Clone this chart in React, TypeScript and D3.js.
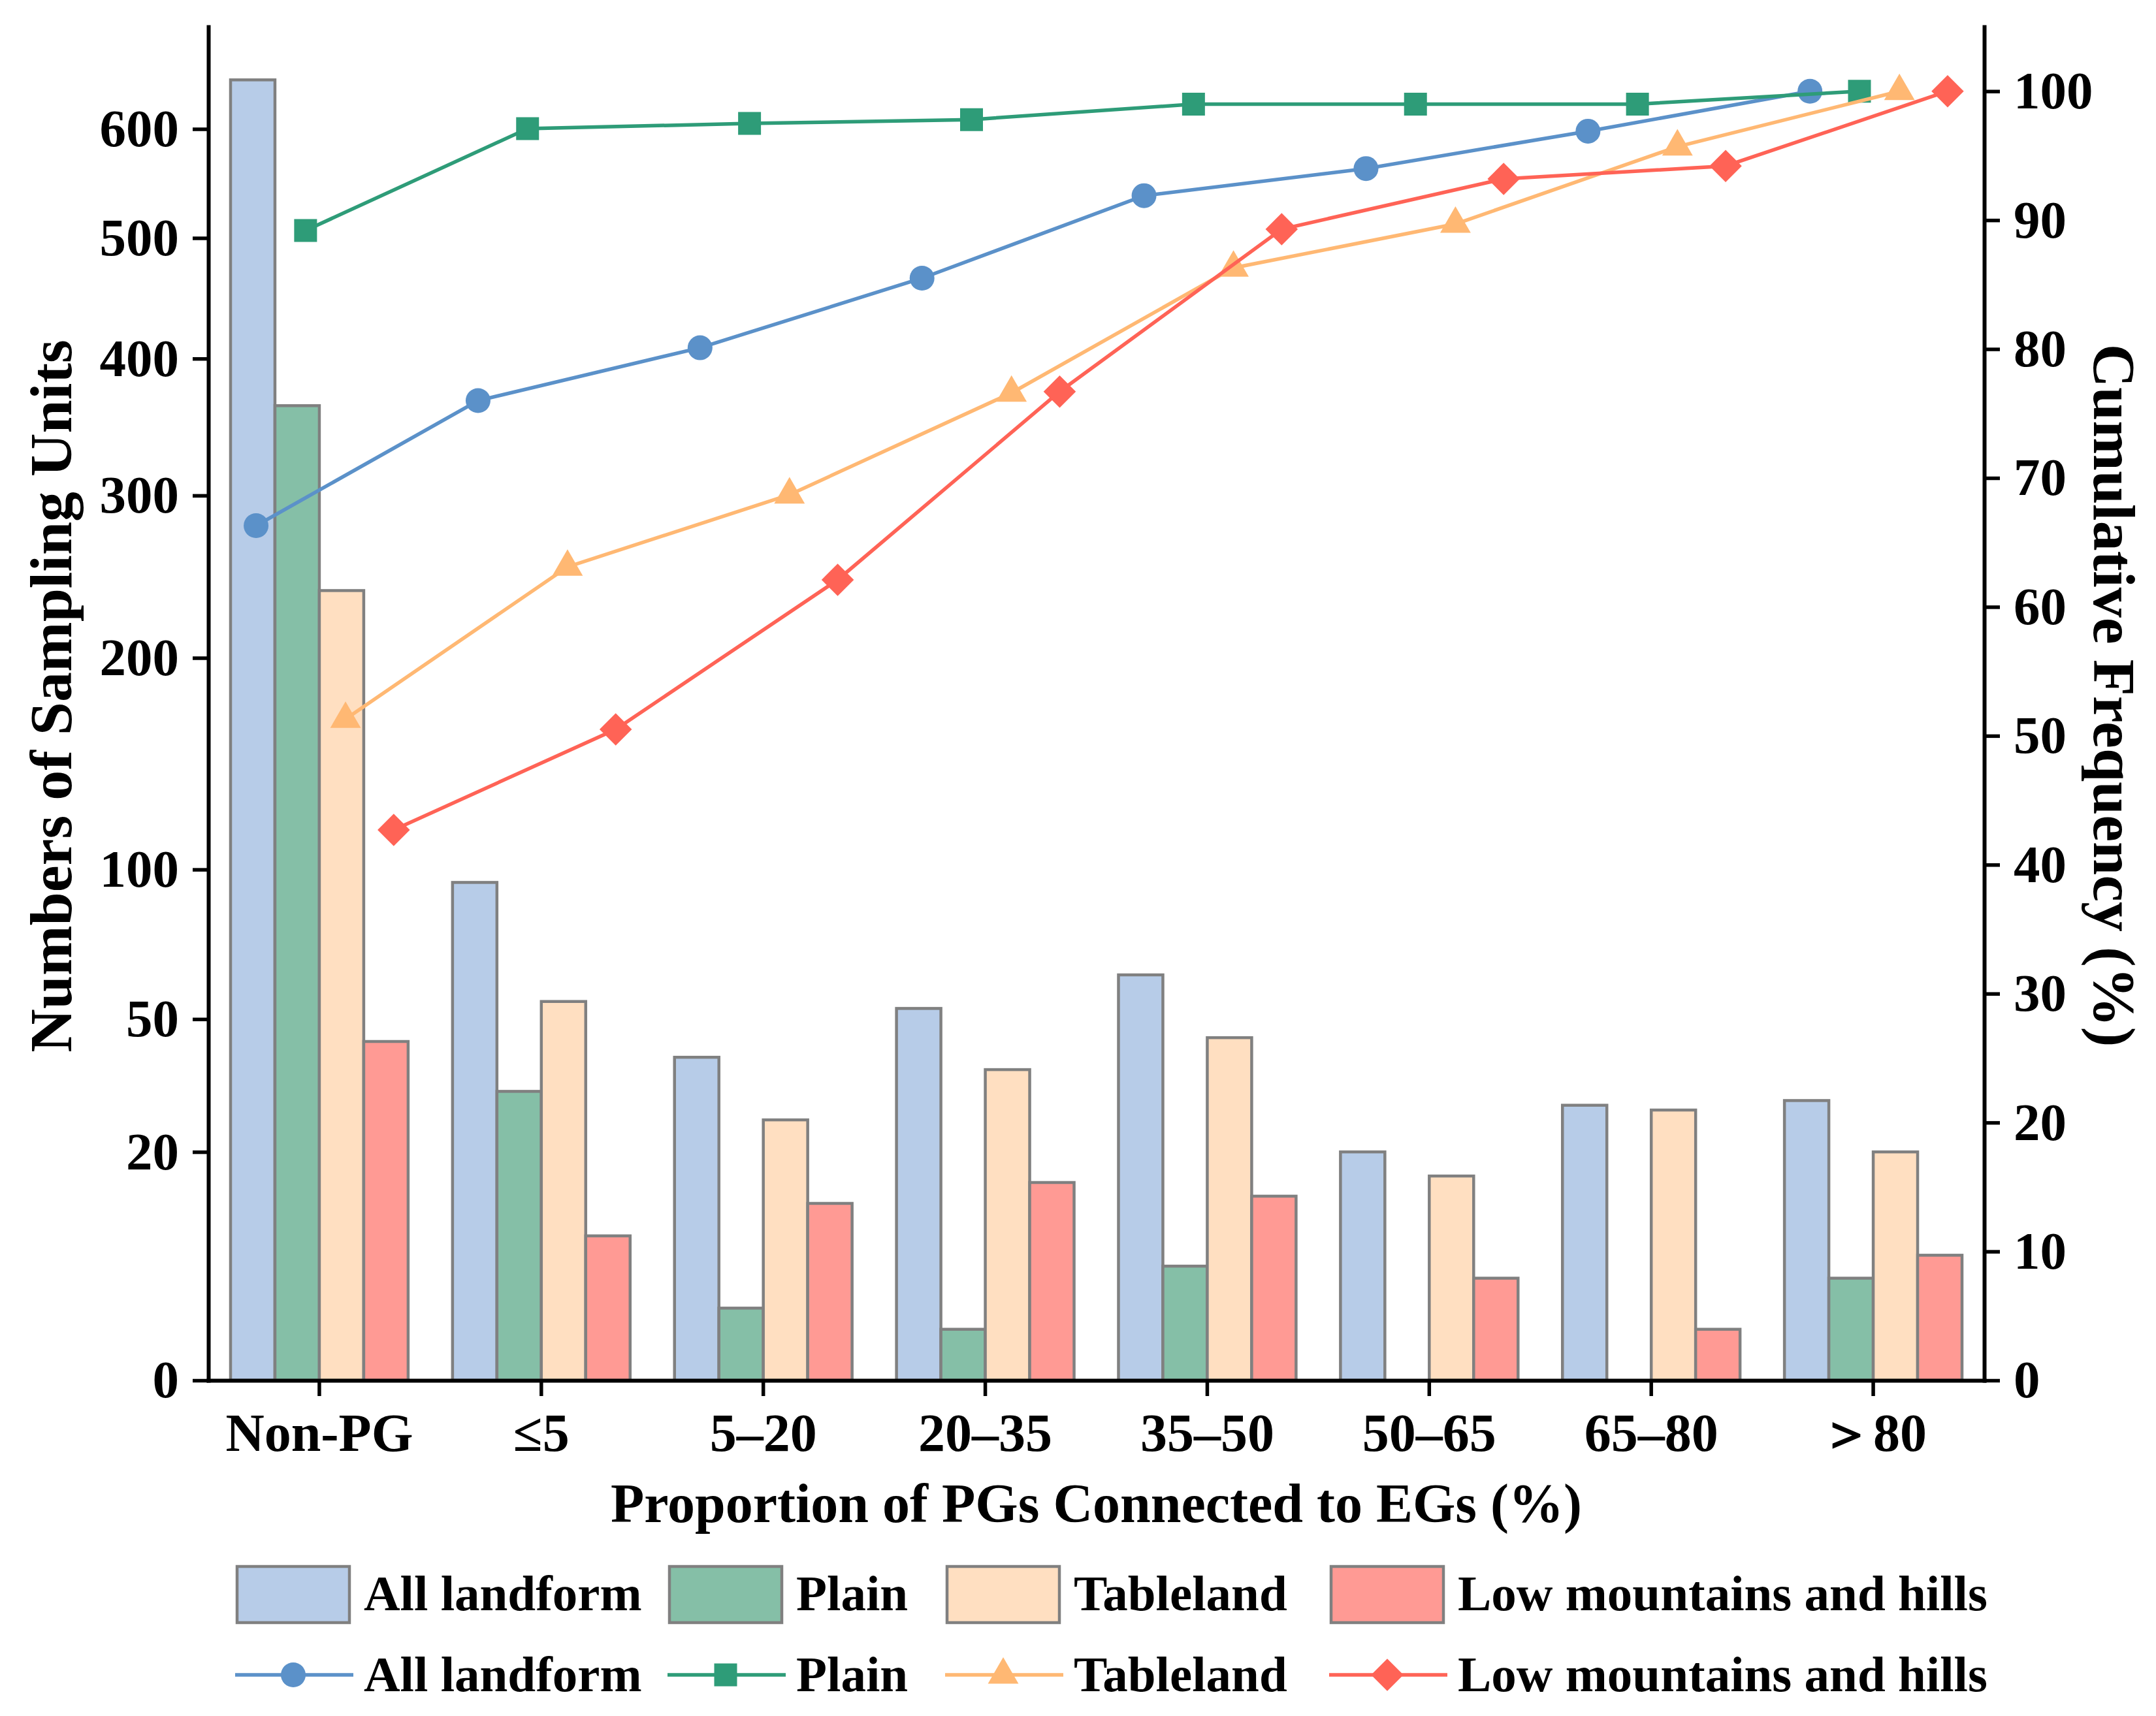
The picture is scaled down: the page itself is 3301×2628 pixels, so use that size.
import { useEffect, useRef } from 'react'
import * as d3 from 'd3'

const categories = ['Non-PG', '≤5', '5–20', '20–35', '35–50', '50–65', '65–80', '＞80']
const seriesNames = ['All landform', 'Plain', 'Tableland', 'Low mountains and hills']

// bar counts (left axis, sqrt scale)
const allLandformCounts = [648, 95, 40, 53, 63, 20, 29, 30]
const plainCounts = [364, 32, 2, 1, 5, 0, 0, 4]
const tablelandCounts = [239, 55, 26, 37, 45, 16, 28, 20]
const lowMountainCounts = [44, 8, 12, 15, 13, 4, 1, 6]

// cumulative frequency (right axis, %)
const allLandformCum = [66.3, 76.0, 80.1, 85.5, 91.9, 94.0, 96.9, 100]
const plainCum = [89.2, 97.1, 97.5, 97.8, 99.0, 99.0, 99.0, 100]
const tablelandCum = [51.3, 63.1, 68.7, 76.6, 86.3, 89.7, 95.7, 100]
const lowMountainCum = [42.7, 50.5, 62.1, 76.7, 89.3, 93.2, 94.2, 100]

const leftTicks = [0, 20, 50, 100, 200, 300, 400, 500, 600]
const rightTicks = [0, 10, 20, 30, 40, 50, 60, 70, 80, 90, 100]

const W = 3301
const H = 2628
const FONT = '"Liberation Serif", "Times New Roman", Times, serif'

const barFill = ['#B7CCE8', '#85BFA7', '#FFDFC1', '#FF9A94']
const lineColor = ['#5B91C9', '#2E9C78', '#FFB873', '#FF6356']
const markerOffset = [-0.285, -0.062, 0.118, 0.335]

export default function App() {
  const svgRef = useRef<SVGSVGElement>(null)

  useEffect(() => {
    document.body.style.margin = '0'
    if (!svgRef.current) return
    const svg = d3.select(svgRef.current)
    svg.selectAll('*').remove()

    const plot = { left: 319, right: 3038, top: 41, bottom: 2114 }
    const counts = [allLandformCounts, plainCounts, tablelandCounts, lowMountainCounts]
    const cums = [allLandformCum, plainCum, tablelandCum, lowMountainCum]

    const x = d3.scaleBand().domain(categories).range([plot.left, plot.right]).padding(0)
    const bw = x.bandwidth()
    const xs = d3
      .scaleBand()
      .domain(seriesNames)
      .range([bw * 0.1, bw * 0.9])
      .padding(0)
    const yLeft = d3.scaleSqrt().domain([0, 702]).range([plot.bottom, plot.top])
    const yRight = d3.scaleLinear().domain([0, 105]).range([plot.bottom, plot.top])

    svg.append('rect').attr('width', W).attr('height', H).attr('fill', '#fff')

    // Bars
    counts.forEach((vals, i) => {
      svg
        .append('g')
        .selectAll('rect')
        .data(vals.map((v, j) => ({ v, c: categories[j] })).filter((d) => d.v > 0))
        .join('rect')
        .attr('x', (d) => (x(d.c) ?? 0) + (xs(seriesNames[i]) ?? 0))
        .attr('y', (d) => yLeft(d.v))
        .attr('width', xs.bandwidth())
        .attr('height', (d) => plot.bottom - yLeft(d.v))
        .attr('fill', barFill[i])
        .attr('stroke', '#808080')
        .attr('stroke-width', 4.5)
    })

    const symbolPath = (i: number) => {
      if (i === 0) return d3.symbol(d3.symbolCircle, Math.PI * 19 * 19)()
      if (i === 1) return d3.symbol(d3.symbolSquare, 35 * 35)()
      if (i === 2) return d3.symbol(d3.symbolTriangle, 950)()
      return d3.symbol(d3.symbolSquare, 35 * 35)()
    }
    const symbolRot = (i: number) => (i === 3 ? ' rotate(45)' : '')

    // Axes
    const styleAxis = (g: d3.Selection<SVGGElement, unknown, null, undefined>, size: number) => {
      g.attr('font-family', FONT).attr('font-size', size).attr('font-weight', 'bold')
      g.select('.domain').attr('stroke', '#000').attr('stroke-width', 6).attr('stroke-linecap', 'square')
      g.selectAll('.tick line').attr('stroke', '#000').attr('stroke-width', 5.5)
      g.selectAll('.tick text').attr('fill', '#000')
    }

    const gl = svg
      .append('g')
      .attr('transform', `translate(${plot.left},0)`)
      .call(d3.axisLeft(yLeft).tickValues(leftTicks).tickSize(24).tickSizeOuter(0).tickPadding(21))
    styleAxis(gl, 81)

    const gr = svg
      .append('g')
      .attr('transform', `translate(${plot.right},0)`)
      .call(d3.axisRight(yRight).tickValues(rightTicks).tickSize(24).tickSizeOuter(0).tickPadding(21))
    styleAxis(gr, 81)

    const gb = svg
      .append('g')
      .attr('transform', `translate(0,${plot.bottom})`)
      .call(d3.axisBottom(x).tickSize(24).tickSizeOuter(0).tickPadding(26))
    styleAxis(gb, 82)

    // Cumulative lines
    cums.forEach((vals, i) => {
      const pts = vals.map((v, j) => [
        (x(categories[j]) ?? 0) + bw / 2 + markerOffset[i] * bw,
        yRight(v),
      ]) as [number, number][]
      svg
        .append('path')
        .attr('d', d3.line()(pts))
        .attr('fill', 'none')
        .attr('stroke', lineColor[i])
        .attr('stroke-width', 5.5)
      svg
        .append('g')
        .selectAll('path')
        .data(pts)
        .join('path')
        .attr('d', symbolPath(i))
        .attr('transform', (d) => `translate(${d[0]},${d[1]})${symbolRot(i)}`)
        .attr('fill', lineColor[i])
    })

    // Axis titles
    svg
      .append('text')
      .attr('transform', `translate(109,1066) rotate(-90)`)
      .attr('text-anchor', 'middle')
      .attr('font-family', FONT)
      .attr('font-weight', 'bold')
      .attr('font-size', 92)
      .text('Numbers of Sampling Units')

    svg
      .append('text')
      .attr('transform', `translate(3206,1065) rotate(90)`)
      .attr('text-anchor', 'middle')
      .attr('font-family', FONT)
      .attr('font-weight', 'bold')
      .attr('font-size', 92)
      .text('Cumulative Frequency (%)')

    svg
      .append('text')
      .attr('x', (plot.left + plot.right) / 2)
      .attr('y', 2331)
      .attr('text-anchor', 'middle')
      .attr('font-family', FONT)
      .attr('font-weight', 'bold')
      .attr('font-size', 84)
      .text('Proportion of PGs Connected to EGs (%)')

    // Legend
    const legendX = [363, 1025, 1450, 2038]
    const leg = svg.append('g').attr('font-family', FONT).attr('font-weight', 'bold').attr('font-size', 77)
    seriesNames.forEach((name, i) => {
      const lx = legendX[i]
      leg
        .append('rect')
        .attr('x', lx)
        .attr('y', 2399)
        .attr('width', 172)
        .attr('height', 86)
        .attr('fill', barFill[i])
        .attr('stroke', '#808080')
        .attr('stroke-width', 4.5)
      leg.append('text').attr('x', lx + 194).attr('y', 2466).text(name)

      leg
        .append('line')
        .attr('x1', lx - 3)
        .attr('x2', lx + 178)
        .attr('y1', 2565)
        .attr('y2', 2565)
        .attr('stroke', lineColor[i])
        .attr('stroke-width', 5.5)
      leg
        .append('path')
        .attr('d', symbolPath(i))
        .attr('transform', `translate(${lx + 86},2565)${symbolRot(i)}`)
        .attr('fill', lineColor[i])
      leg.append('text').attr('x', lx + 194).attr('y', 2590).text(name)
    })
  }, [])

  return <svg ref={svgRef} width={W} height={H} style={{ display: 'block' }} />
}
